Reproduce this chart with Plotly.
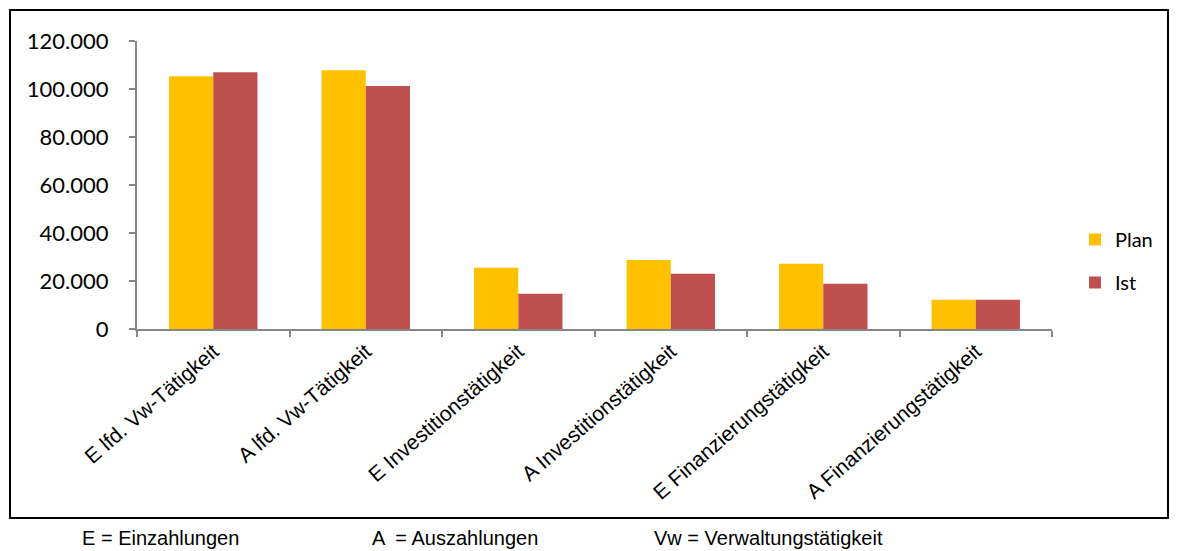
import plotly.graph_objects as go

# Kategorien und Werte (Plan / Ist)
categories = [
    "E lfd. Vw-Tätigkeit",
    "A lfd. Vw-Tätigkeit",
    "E Investitionstätigkeit",
    "A Investitionstätigkeit",
    "E Finanzierungstätigkeit",
    "A Finanzierungstätigkeit",
]
plan_values = [105300, 107800, 25500, 28800, 27150, 12200]
ist_values = [107000, 101200, 14700, 23000, 18840, 12200]
y_ticks = [0, 20000, 40000, 60000, 80000, 100000, 120000]
footnotes = ["E = Einzahlungen", "A  = Auszahlungen", "Vw = Verwaltungstätigkeit"]

W, H = 1178, 551
L, R, T, B = 137, 1052, 41, 329  # plot area in pixels


def px_x(x):
    return (x - L) / (R - L)


def px_y(y):
    return (B - y) / (B - T)


fig = go.Figure()
fig.add_trace(go.Bar(x=categories, y=plan_values, name="Plan",
                     marker=dict(color="#FFC000", line=dict(width=0)),
                     legend="legend"))
fig.add_trace(go.Bar(x=categories, y=ist_values, name="Ist",
                     marker=dict(color="#C0504D", line=dict(width=0)),
                     legend="legend2"))

axis_color = "#868686"
legend_font = dict(family="Lato, Open Sans, sans-serif", size=20, color="black")
fig.update_layout(
    width=W, height=H,
    margin=dict(l=L, r=W - R, t=T, b=H - B, pad=0),
    paper_bgcolor="white", plot_bgcolor="white",
    barmode="group", bargap=0.42, bargroupgap=0,
    separators=",.",
    showlegend=True,
    legend=dict(x=px_x(1075), y=px_y(220), xanchor="left", yanchor="top",
                font=legend_font, bgcolor="rgba(0,0,0,0)", itemwidth=30),
    legend2=dict(x=px_x(1075), y=px_y(263), xanchor="left", yanchor="top",
                 font=legend_font, bgcolor="rgba(0,0,0,0)", itemwidth=30),
    xaxis=dict(
        type="category", range=[-0.5, len(categories) - 0.5],
        showline=True, linecolor=axis_color, linewidth=2,
        ticks="outside", tickson="boundaries", ticklen=6, tickcolor=axis_color, tickwidth=2,
        tickangle=-41,
        tickfont=dict(family="Liberation Sans, Arial, sans-serif", size=21, color="black"),
        showgrid=False, zeroline=False,
    ),
    yaxis=dict(
        range=[0, 120000], tickvals=y_ticks, tickformat=",d",
        showline=True, linecolor=axis_color, linewidth=2,
        ticks="outside", ticklen=6, tickcolor=axis_color, tickwidth=2,
        tickfont=dict(family="Lato, Open Sans, sans-serif", size=22, color="black"),
        ticklabelstandoff=16,
        showgrid=False, zeroline=False,
    ),
    font=dict(family="Liberation Sans, Arial, sans-serif", color="black"),
)

# Rahmen um das Diagramm
fig.add_shape(type="rect", xref="paper", yref="paper",
              x0=px_x(10), x1=px_x(1168), y0=px_y(518), y1=px_y(10),
              line=dict(color="black", width=2), fillcolor="rgba(0,0,0,0)", layer="below")

# Legende der Abkürzungen
for text, x in zip(footnotes, [80, 370, 652]):
    fig.add_annotation(text=text, xref="paper", yref="paper",
                       x=px_x(x), y=px_y(538), xanchor="left", yanchor="middle",
                       showarrow=False,
                       font=dict(family="Liberation Sans, Arial, sans-serif", size=20, color="black"))

fig.write_html("out.html")
